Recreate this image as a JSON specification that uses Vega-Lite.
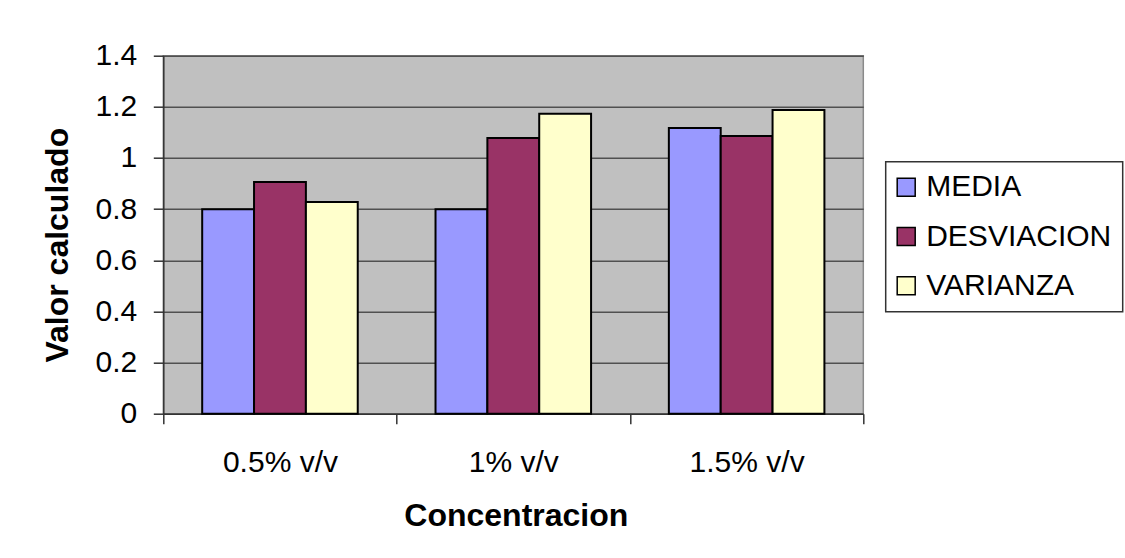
{
  "$schema": "https://vega.github.io/schema/vega-lite/v6.json",
  "width": 700,
  "height": 358,
  "autosize": {"type": "none"},
  "padding": {"left": 163.3, "top": 55.7, "right": 261.7, "bottom": 144.3},
  "background": "white",
  "config": {
    "font": "Liberation Sans",
    "view": {"fill": "#C0C0C0", "stroke": "#8a8a8a", "strokeWidth": 1.5}
  },
  "data": {
    "values": [
      {"conc": "0.5% v/v", "serie": "MEDIA", "valor": 0.80},
      {"conc": "0.5% v/v", "serie": "DESVIACION", "valor": 0.906},
      {"conc": "0.5% v/v", "serie": "VARIANZA", "valor": 0.828},
      {"conc": "1% v/v", "serie": "MEDIA", "valor": 0.80},
      {"conc": "1% v/v", "serie": "DESVIACION", "valor": 1.078},
      {"conc": "1% v/v", "serie": "VARIANZA", "valor": 1.173},
      {"conc": "1.5% v/v", "serie": "MEDIA", "valor": 1.117},
      {"conc": "1.5% v/v", "serie": "DESVIACION", "valor": 1.086},
      {"conc": "1.5% v/v", "serie": "VARIANZA", "valor": 1.188}
    ]
  },
  "mark": {"type": "bar", "stroke": "black", "strokeWidth": 2},
  "encoding": {
    "x": {
      "field": "conc",
      "type": "nominal",
      "sort": "ascending",
      "scale": {"paddingInner": 0, "paddingOuter": 0},
      "axis": {
        "title": "Concentracion",
        "titleFont": "Liberation Sans",
        "titleFontSize": 32,
        "titleFontWeight": "bold",
        "titleColor": "black",
        "titleBaseline": "alphabetic",
        "titleY": 112,
        "titleX": 352.5,
        "labelAngle": 0,
        "labelFontSize": 30,
        "labelColor": "black",
        "labelBaseline": "alphabetic",
        "labelPadding": 47.5,
        "tickBand": "extent",
        "tickSize": 10,
        "tickColor": "#333333",
        "tickWidth": 1.5,
        "domainColor": "#333333",
        "domainWidth": 1.5,
        "grid": false
      }
    },
    "xOffset": {
      "field": "serie",
      "type": "nominal",
      "sort": ["MEDIA", "DESVIACION", "VARIANZA"],
      "scale": {"paddingInner": 0, "paddingOuter": 0.75}
    },
    "y": {
      "field": "valor",
      "type": "quantitative",
      "scale": {"domain": [0, 1.4], "nice": false},
      "axis": {
        "title": "Valor calculado",
        "titleFont": "Liberation Sans",
        "titleFontSize": 32,
        "titleFontWeight": "bold",
        "titleColor": "black",
        "titleAngle": -90,
        "titleAlign": "center",
        "titleBaseline": "alphabetic",
        "titleX": -96,
        "titleY": 189,
        "values": [0, 0.2, 0.4, 0.6, 0.8, 1, 1.2, 1.4],
        "format": "~g",
        "labelFontSize": 30,
        "labelColor": "black",
        "labelPadding": 16.5,
        "tickSize": 10,
        "tickColor": "#333333",
        "tickWidth": 1.5,
        "domainColor": "#333333",
        "domainWidth": 1.5,
        "grid": true,
        "gridColor": "#505050",
        "gridWidth": 1.5
      }
    },
    "fill": {
      "field": "serie",
      "type": "nominal",
      "scale": {
        "domain": ["MEDIA", "DESVIACION", "VARIANZA"],
        "range": ["#9999FF", "#993366", "#FFFFCC"]
      },
      "legend": {
        "title": null,
        "orient": "none",
        "legendX": 722.4,
        "legendY": 106,
        "direction": "vertical",
        "fillColor": "white",
        "strokeColor": "#333333",
        "padding": 10.5,
        "rowPadding": 19.3,
        "symbolType": "square",
        "symbolSize": 324,
        "symbolOffset": -5,
        "symbolStrokeColor": "black",
        "symbolStrokeWidth": 1.5,
        "symbolOpacity": 1,
        "labelFontSize": 30,
        "labelColor": "black",
        "labelOffset": 5,
        "labelLimit": 400,
        "encode": {"legend": {"update": {"strokeWidth": {"value": 1.5}}}}
      }
    }
  }
}
